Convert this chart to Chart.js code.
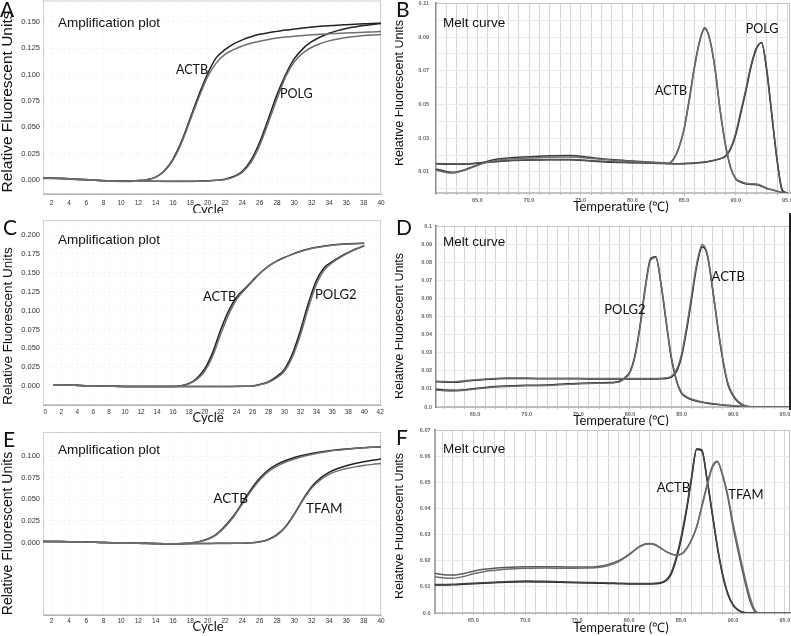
<!DOCTYPE html>
<html lang="en">
<head>
<meta charset="UTF-8">
<title>Amplification plots and melt curves</title>
<script src="https://cdn.jsdelivr.net/npm/chart.js"></script>
<style>
    html, body {
        margin: 0;
        padding: 0;
        background: #fff;
    }
    body {
        position: relative;
        width: 791px;
        height: 636px;
        overflow: hidden;
    }
    canvas {
        position: absolute;
    }
</style>
</head>
<body>
<canvas id="panelA" style="left:0;top:0" width="395" height="213"></canvas>
<canvas id="panelB" style="left:395px;top:0" width="396" height="213"></canvas>
<canvas id="panelC" style="left:0;top:213px" width="395" height="213"></canvas>
<canvas id="panelD" style="left:395px;top:213px" width="396" height="213"></canvas>
<canvas id="panelE" style="left:0;top:426px" width="395" height="210"></canvas>
<canvas id="panelF" style="left:395px;top:426px" width="396" height="210"></canvas>

<script>
// ---------- amplification plots (one value per cycle) ----------
const cycles = [1,2,3,4,5,6,7,8,9,10,11,12,13,14,15,16,17,18,19,20,
                21,22,23,24,25,26,27,28,29,30,31,32,33,34,35,36,37,38,39,40];

const ampXTicksAE = [2,4,6,8,10,12,14,16,18,20,22,24,26,28,30,32,34,36,38,40];
const ampXTicksC = [0,2,4,6,8,10,12,14,16,18,20,22,24,26,28,30,32,34,36,38,40,42];

const ampYTicksA = [0, 0.025, 0.05, 0.075, 0.1, 0.125, 0.15];
const ampYLabelsA = ['0.000','0.025','0.050','0.075','0.100','0.125','0.150'];
const ampYTicksC = [0, 0.025, 0.05, 0.075, 0.1, 0.125, 0.15, 0.175, 0.2];
const ampYLabelsC = ['0.000','0.025','0.050','0.075','0.100','0.125','0.150','0.175','0.200'];
const ampYTicksE = [0, 0.025, 0.05, 0.075, 0.1];
const ampYLabelsE = ['0.000','0.025','0.050','0.075','0.100'];

// panel A: ACTB / POLG
const actbA1 = [0.0020,0.0020,0.0019,0.0015,0.0010,0.0006,0.0002,-0.0003,-0.0008,-0.0008,
                -0.0006,-0.0002,0.0006,0.0030,0.0090,0.0200,0.0370,0.0590,0.0810,0.1010,
                0.1160,0.1235,0.1290,0.1328,0.1357,0.1380,0.1396,0.1408,0.1420,0.1430,
                0.1440,0.1449,0.1456,0.1462,0.1467,0.1471,0.1475,0.1479,0.1483,0.1486];
const actbA2 = [0.0019,0.0019,0.0018,0.0014,0.0009,0.0005,0.0001,-0.0004,-0.0009,-0.0009,
                -0.0007,-0.0003,0.0005,0.0028,0.0085,0.0190,0.0355,0.0570,0.0785,0.0980,
                0.1110,0.1190,0.1235,0.1270,0.1295,0.1315,0.1331,0.1345,0.1355,0.1363,
                0.1369,0.1375,0.1380,0.1385,0.1389,0.1393,0.1396,0.1400,0.1403,0.1406];
const polgA1 = [0.0018,0.0018,0.0016,0.0012,0.0008,0.0004,0.0000,-0.0005,-0.0009,-0.0010,
                -0.0010,-0.0008,-0.0008,-0.0009,-0.0010,-0.0010,-0.0010,-0.0010,-0.0008,-0.0005,
                0.0000,0.0010,0.0035,0.0085,0.0190,0.0360,0.0580,0.0810,0.1000,0.1150,
                0.1245,0.1310,0.1355,0.1390,0.1415,0.1435,0.1450,0.1463,0.1473,0.1482];
const polgA2 = [0.0017,0.0017,0.0015,0.0011,0.0007,0.0003,-0.0001,-0.0006,-0.0010,-0.0011,
                -0.0011,-0.0009,-0.0009,-0.0010,-0.0011,-0.0011,-0.0011,-0.0011,-0.0009,-0.0006,
                -0.0001,0.0008,0.0030,0.0075,0.0170,0.0330,0.0545,0.0770,0.0980,0.1120,
                0.1205,0.1258,0.1292,0.1318,0.1336,0.1350,0.1360,0.1368,0.1374,0.1378];

// panel C: ACTB / POLG2
const actbC1 = [0.0015,0.0015,0.0014,0.0010,0.0006,0.0004,0.0003,0.0002,-0.0003,-0.0005,
                -0.0005,-0.0005,-0.0005,-0.0005,-0.0005,-0.0004,0.0005,0.0035,0.0105,0.0230,
                0.0450,0.0750,0.1000,0.1180,0.1290,0.1400,0.1505,0.1590,0.1655,0.1705,
                0.1748,0.1785,0.1815,0.1838,0.1855,0.1868,0.1878,0.1885,0.1890,0.1893];
const actbC2 = [0.0014,0.0014,0.0013,0.0009,0.0005,0.0003,0.0002,0.0001,-0.0004,-0.0006,
                -0.0006,-0.0006,-0.0006,-0.0006,-0.0006,-0.0005,0.0003,0.0030,0.0090,0.0200,
                0.0400,0.0690,0.0950,0.1150,0.1275,0.1390,0.1500,0.1588,0.1652,0.1702,
                0.1745,0.1782,0.1812,0.1835,0.1852,0.1865,0.1875,0.1882,0.1887,0.1890];
const polg2C1 = [0.0015,0.0015,0.0014,0.0010,0.0006,0.0004,0.0003,0.0002,-0.0003,-0.0005,
                 -0.0005,-0.0005,-0.0005,-0.0005,-0.0005,-0.0005,-0.0005,-0.0005,-0.0005,-0.0005,
                 -0.0005,-0.0005,-0.0004,-0.0003,-0.0002,0.0003,0.0025,0.0060,0.0125,0.0225,
                 0.0430,0.0740,0.1100,0.1400,0.1570,0.1650,0.1715,0.1770,0.1820,0.1860];
const polg2C2 = [0.0014,0.0014,0.0013,0.0009,0.0005,0.0003,0.0002,0.0001,-0.0004,-0.0006,
                 -0.0006,-0.0006,-0.0006,-0.0006,-0.0006,-0.0006,-0.0006,-0.0006,-0.0006,-0.0006,
                 -0.0006,-0.0006,-0.0005,-0.0004,-0.0003,0.0001,0.0020,0.0052,0.0110,0.0200,
                 0.0390,0.0680,0.1040,0.1350,0.1540,0.1635,0.1705,0.1765,0.1815,0.1855];

// panel E: ACTB / TFAM
const actbE1 = [0.0012,0.0012,0.0011,0.0010,0.0008,0.0005,0.0003,0.0000,-0.0003,-0.0005,
                -0.0007,-0.0009,-0.0010,-0.0013,-0.0014,-0.0014,-0.0012,-0.0005,0.0010,0.0040,
                0.0095,0.0190,0.0310,0.0460,0.0615,0.0745,0.0840,0.0905,0.0950,0.0985,
                0.1010,0.1030,0.1047,0.1062,0.1073,0.1083,0.1091,0.1098,0.1104,0.1110];
const actbE2 = [0.0011,0.0011,0.0010,0.0009,0.0007,0.0004,0.0002,-0.0001,-0.0004,-0.0006,
                -0.0008,-0.0010,-0.0011,-0.0014,-0.0015,-0.0015,-0.0013,-0.0006,0.0008,0.0036,
                0.0088,0.0180,0.0298,0.0445,0.0595,0.0725,0.0820,0.0885,0.0932,0.0968,
                0.0997,0.1020,0.1040,0.1057,0.1070,0.1080,0.1089,0.1097,0.1103,0.1109];
const tfamE1 = [0.0012,0.0012,0.0011,0.0010,0.0008,0.0005,0.0003,0.0000,-0.0003,-0.0005,
                -0.0007,-0.0009,-0.0010,-0.0013,-0.0014,-0.0014,-0.0014,-0.0013,-0.0012,-0.0011,
                -0.0010,-0.0010,-0.0009,-0.0008,-0.0003,0.0008,0.0035,0.0090,0.0185,0.0330,
                0.0500,0.0645,0.0745,0.0812,0.0857,0.0890,0.0915,0.0935,0.0952,0.0968];
const tfamE2 = [0.0011,0.0011,0.0010,0.0009,0.0007,0.0004,0.0002,-0.0001,-0.0004,-0.0006,
                -0.0008,-0.0010,-0.0011,-0.0014,-0.0015,-0.0015,-0.0015,-0.0014,-0.0013,-0.0012,
                -0.0011,-0.0011,-0.0010,-0.0009,-0.0004,0.0006,0.0032,0.0085,0.0180,0.0325,
                0.0490,0.0630,0.0725,0.0790,0.0830,0.0856,0.0876,0.0892,0.0905,0.0915];

// ---------- melt curves (temperature in degrees C) ----------
const meltXLabels = [65, 70, 75, 80, 85, 90, 95];

const meltYTicksB = [0, 0.01, 0.02, 0.03, 0.04, 0.05, 0.06, 0.07, 0.08, 0.09, 0.1, 0.11];
const meltYLabelsB = ['', '0.01', '', '0.03', '', '0.05', '', '0.07', '', '0.09', '', '0.11'];
const meltYTicksD = [0, 0.01, 0.02, 0.03, 0.04, 0.05, 0.06, 0.07, 0.08, 0.09, 0.1];
const meltYLabelsD = ['0.0','0.01','0.02','0.03','0.04','0.05','0.06','0.07','0.08','0.09','0.1'];
const meltYTicksF = [0, 0.01, 0.02, 0.03, 0.04, 0.05, 0.06, 0.07];
const meltYLabelsF = ['0.0','0.01','0.02','0.03','0.04','0.05','0.06','0.07'];

// panel B: ACTB / POLG
const tempsB = [61,62,62.5,63,64,65,66,67,68,70,72,74,76,78,80,82,83,83.5,84,84.5,
                85,85.5,86,86.5,87,87.5,88,88.5,89,89.5,90,90.5,91,91.5,92,92.5,93,93.5,94,94.5,95];
const actbB1 = [0.0118,0.0102,0.0098,0.0100,0.0118,0.0142,0.0163,0.0176,0.0183,0.0190,
                0.0196,0.0197,0.0186,0.0173,0.0165,0.0158,0.0153,0.0151,0.0178,0.0245,
                0.0355,0.0530,0.0722,0.0875,0.0955,0.0885,0.0710,0.0459,0.0262,0.0125,
                0.0058,0.0038,0.0028,0.0025,0.0024,0.0015,0.0002,-0.0006,-0.0014,-0.0022,-0.0025];
const actbB2 = [0.0110,0.0097,0.0094,0.0097,0.0114,0.0138,0.0158,0.0170,0.0176,0.0182,
                0.0187,0.0188,0.0180,0.0169,0.0162,0.0156,0.0152,0.0150,0.0176,0.0242,
                0.0350,0.0520,0.0715,0.0870,0.0950,0.0882,0.0712,0.0465,0.0266,0.0130,
                0.0062,0.0043,0.0033,0.0030,0.0028,0.0019,0.0004,-0.0006,-0.0015,-0.0025,-0.0025];
const polgB1 = [0.0148,0.0146,0.0145,0.0145,0.0147,0.0151,0.0157,0.0162,0.0166,0.0170,
                0.0172,0.0172,0.0165,0.0158,0.0155,0.0152,0.0150,0.0149,0.0148,0.0148,
                0.0149,0.0150,0.0152,0.0155,0.0158,0.0163,0.0170,0.0178,0.0192,0.0235,
                0.0320,0.0450,0.0585,0.0730,0.0830,0.0868,0.0700,0.0430,0.0168,-0.0010,-0.0025];
const polgB2 = [0.0150,0.0148,0.0147,0.0147,0.0149,0.0153,0.0159,0.0164,0.0168,0.0172,
                0.0174,0.0174,0.0167,0.0160,0.0156,0.0153,0.0151,0.0150,0.0149,0.0149,
                0.0150,0.0151,0.0153,0.0156,0.0159,0.0164,0.0171,0.0179,0.0194,0.0240,
                0.0330,0.0462,0.0595,0.0738,0.0835,0.0865,0.0710,0.0440,0.0175,-0.0005,-0.0025];

// panel D: POLG2 / ACTB
const tempsD = [61.2,62,63,64,65,66,67,68,70,72,74,76,77,78,78.5,79,79.5,80,80.5,81,
                81.5,82,82.5,83,83.5,84,84.5,85,85.5,86,86.5,87,87.5,88,88.5,89,89.5,90,
                90.5,91,91.5,92,93,94,95.5];
const polg2D1 = [0.0098,0.0094,0.0092,0.0095,0.0102,0.0108,0.0113,0.0116,0.0120,0.0122,
                 0.0128,0.0133,0.0134,0.0135,
                 0.0137,0.0142,0.0162,0.0195,0.0290,0.0460,0.0670,0.0820,0.0830,0.0680,
                 0.0470,0.0270,0.0145,0.0075,0.0052,0.0040,0.0032,0.0026,0.0021,0.0017,
                 0.0014,0.0011,0.0008,0.0006,0.0004,0.0002,0.0000,0.0000,0.0000,0.0000,0.0000];
const polg2D2 = [0.0093,0.0090,0.0089,0.0092,0.0099,0.0105,0.0110,0.0113,0.0117,0.0119,
                 0.0125,0.0130,0.0131,0.0132,
                 0.0134,0.0139,0.0158,0.0190,0.0282,0.0450,0.0660,0.0812,0.0826,0.0685,
                 0.0478,0.0278,0.0150,0.0080,0.0056,0.0043,0.0035,0.0028,0.0023,0.0019,
                 0.0015,0.0012,0.0009,0.0007,0.0005,0.0003,0.0001,0.0000,0.0000,0.0000,0.0000];
const actbD1 = [0.0140,0.0138,0.0137,0.0142,0.0148,0.0152,0.0155,0.0157,0.0157,0.0156,
                0.0156,0.0155,0.0155,0.0155,
                0.0155,0.0155,0.0155,0.0155,0.0155,0.0155,0.0155,0.0155,0.0155,0.0156,
                0.0158,0.0165,0.0195,0.0280,0.0430,0.0610,0.0790,0.0885,0.0835,0.0650,
                0.0440,0.0255,0.0120,0.0060,0.0025,0.0008,0.0002,0.0000,0.0000,0.0000,0.0000];
const actbD2 = [0.0143,0.0141,0.0140,0.0145,0.0151,0.0155,0.0158,0.0160,0.0160,0.0159,
                0.0159,0.0158,0.0158,0.0158,
                0.0158,0.0158,0.0158,0.0158,0.0158,0.0158,0.0158,0.0158,0.0158,0.0159,
                0.0161,0.0170,0.0205,0.0295,0.0450,0.0630,0.0805,0.0898,0.0842,0.0655,
                0.0445,0.0262,0.0128,0.0066,0.0030,0.0011,0.0003,0.0000,0.0000,0.0000,0.0000];

// panel F: ACTB / TFAM
const tempsF = [61.25,62,63,64,65,66,67,68,70,72,74,76,77,78,79,80,80.5,81,81.5,82,
                82.5,83,83.5,84,84.5,85,85.5,86,86.5,87,87.5,88,88.5,89,89.5,90,
                90.5,91,91.5,92,92.5,93,94,95.5];
const actbF1 = [0.0107,0.0107,0.0108,0.0110,0.0112,0.0114,0.0116,0.0118,
                0.0120,0.0119,0.0117,0.0115,0.0114,0.0113,0.0112,0.0111,
                0.0111,0.0111,0.0111,0.0111,0.0112,0.0114,0.0122,0.0145,0.0200,0.0280,
                0.0385,0.0510,0.0625,0.0620,0.0510,0.0380,0.0250,0.0145,0.0072,0.0030,
                0.0010,0.0002,0.0000,0.0000,0.0000,0.0000,0.0000,0.0000];
const actbF2 = [0.0109,0.0109,0.0110,0.0112,0.0114,0.0116,0.0118,0.0120,
                0.0122,0.0121,0.0119,0.0117,0.0116,0.0115,0.0114,0.0113,
                0.0113,0.0113,0.0113,0.0113,0.0114,0.0116,0.0125,0.0150,0.0208,0.0290,
                0.0395,0.0518,0.0628,0.0624,0.0515,0.0385,0.0255,0.0150,0.0076,0.0033,
                0.0012,0.0003,0.0000,0.0000,0.0000,0.0000,0.0000,0.0000];
const tfamF1 = [0.0152,0.0147,0.0145,0.0150,0.0160,0.0167,0.0171,0.0174,
                0.0177,0.0177,0.0176,0.0176,0.0178,0.0186,0.0200,0.0225,
                0.0240,0.0255,0.0264,0.0266,0.0262,0.0250,0.0237,0.0227,0.0222,0.0225,
                0.0245,0.0280,0.0330,0.0410,0.0490,0.0560,0.0580,0.0525,0.0443,0.0330,
                0.0235,0.0145,0.0065,0.0012,0.0000,0.0000,0.0000,0.0000];
const tfamF2 = [0.0139,0.0135,0.0133,0.0139,0.0150,0.0158,0.0163,0.0167,
                0.0171,0.0172,0.0171,0.0172,0.0174,0.0182,0.0197,0.0222,
                0.0238,0.0253,0.0262,0.0264,0.0260,0.0249,0.0236,0.0226,0.0221,0.0224,
                0.0244,0.0278,0.0328,0.0405,0.0485,0.0555,0.0578,0.0530,0.0452,0.0345,
                0.0252,0.0162,0.0080,0.0020,0.0000,0.0000,0.0000,0.0000];

// ---------- drawing ----------
const SANS = '"Liberation Sans", Arial, sans-serif';
const HUMAN = 'Lato, "Open Sans", sans-serif';
const DARK = '#222';
const GREY = '#6e6e6e';

function curve(xs, ys, color) {
    return {
        data: xs.map((x, i) => ({ x: x, y: ys[i] })),
        borderColor: color,
        borderWidth: 1.5,
        pointRadius: 0,
        fill: false,
        cubicInterpolationMode: 'monotone'
    };
}

function degreeGrid(min, max) {
    const out = [];
    for (let t = Math.ceil(min); t <= max; t++) out.push(t);
    return out;
}

function noPad(s) {
    s.paddingLeft = 0; s.paddingRight = 0; s.paddingTop = 0; s.paddingBottom = 0;
}

// titles, panel letters, gene labels and frame
function decor(p) {
    return {
        id: 'decor',
        beforeDatasetsDraw(chart) {
            const a = chart.chartArea, ctx = chart.ctx;
            ctx.save();
            ctx.strokeStyle = p.frame;
            ctx.lineWidth = 1;
            ctx.strokeRect(a.left + 0.5, a.top + 0.5, a.right - a.left - 1, a.bottom - a.top - 1);
            ctx.restore();
        },
        afterDraw(chart) {
            const ctx = chart.ctx, sx = chart.scales.x, sy = chart.scales.y;
            ctx.save();
            ctx.fillStyle = '#111';

            ctx.font = '21px ' + HUMAN;
            ctx.textAlign = 'left';
            ctx.textBaseline = 'alphabetic';
            ctx.fillText(p.letter, p.letterAt[0], p.letterAt[1]);

            ctx.font = '13.5px ' + SANS;
            ctx.fillText(p.title, p.titleAt[0], p.titleAt[1]);

            ctx.font = '13px ' + HUMAN;
            ctx.textAlign = 'center';
            ctx.textBaseline = 'middle';
            ctx.fillText(p.xTitle, p.xTitleAt[0], p.xTitleAt[1]);

            ctx.font = p.genes.size + 'px ' + HUMAN;
            ctx.textAlign = 'left';
            p.genes.list.forEach(g => {
                ctx.fillText(g.text, sx.getPixelForValue(g.x), sy.getPixelForValue(g.y));
            });

            if (p.rightRule) {
                ctx.fillStyle = '#222';
                ctx.fillRect(chart.width - 2, 0, 2, chart.chartArea.bottom + 3);
                ctx.fillStyle = '#111';
            }

            ctx.translate(p.yTitleAt[0], p.yTitleAt[1]);
            ctx.rotate(-Math.PI / 2);
            ctx.font = p.yTitleSize + 'px ' + SANS;
            ctx.textAlign = 'center';
            ctx.fillText('Relative Fluorescent Units', 0, 0);
            ctx.restore();
        }
    };
}

function build(id, p) {
    const canvas = document.getElementById(id);
    const W = canvas.width, H = canvas.height;
    const [L, T, R, B] = p.area;
    const melt = p.kind === 'melt';
    const xTicks = melt ? degreeGrid(p.x[0], p.x[1]) : p.xTicks;
    const xLabel = melt
        ? (v => (meltXLabels.indexOf(v) >= 0 ? v.toFixed(1) : ''))
        : (v => String(v));
    const tickFont = melt
        ? { family: SANS, size: 5.5, weight: 'bold' }
        : { family: SANS, size: 7.5 };

    return new Chart(canvas, {
        type: 'line',
        data: { datasets: p.datasets },
        options: {
            responsive: false,
            animation: false,
            events: [],
            layout: { padding: { left: 0, top: T, right: W - R, bottom: 0 } },
            plugins: { legend: { display: false }, tooltip: { enabled: false } },
            scales: {
                x: {
                    type: 'linear',
                    min: p.x[0],
                    max: p.x[1],
                    afterBuildTicks: s => { s.ticks = xTicks.map(v => ({ value: v })); },
                    afterFit: s => { s.height = H - B; noPad(s); },
                    ticks: {
                        autoSkip: false, maxRotation: 0, minRotation: 0,
                        padding: p.xPad,
                        font: melt ? tickFont : { family: SANS, size: 6.5 },
                        color: melt ? '#666' : '#333',
                        callback: v => xLabel(v)
                    },
                    grid: {
                        color: melt ? '#d6d6d6' : '#ececec',
                        drawTicks: melt,
                        tickLength: 2,
                        tickColor: '#bbb'
                    },
                    border: { color: melt ? '#8c8c8c' : '#b4b4b4', width: melt ? 1.5 : 1, dash: melt ? [] : [1, 3] }
                },
                y: {
                    type: 'linear',
                    min: p.y[0],
                    max: p.y[1],
                    afterBuildTicks: s => { s.ticks = p.yTicks.map(v => ({ value: v })); },
                    afterFit: s => { s.width = L; noPad(s); },
                    ticks: {
                        autoSkip: false,
                        padding: p.yPad,
                        font: tickFont,
                        color: melt ? '#666' : '#333',
                        callback: (v, i) => p.yLabels[i]
                    },
                    grid: { color: melt ? '#ebebeb' : '#ececec', drawTicks: false },
                    border: { color: melt ? '#8c8c8c' : '#b4b4b4', width: melt ? 2 : 1, dash: melt ? [] : [1, 3] }
                }
            }
        },
        plugins: [decor(p)]
    });
}

build('panelA', {
    kind: 'amp', area: [43, 0.5, 381, 194], x: [1, 40], y: [-0.013, 0.17],
    xTicks: ampXTicksAE, yTicks: ampYTicksA, yLabels: ampYLabelsA, xPad: 5, yPad: 3,
    frame: '#cfcfcf',
    datasets: [curve(cycles, actbA2, GREY), curve(cycles, polgA2, GREY),
               curve(cycles, actbA1, DARK), curve(cycles, polgA1, DARK)],
    letter: 'A', letterAt: [0, 16.5], title: 'Amplification plot', titleAt: [58, 27],
    xTitle: 'Cycle', xTitleAt: [208, 210], yTitleAt: [8, 102], yTitleSize: 15.5,
    genes: { size: 12.5, list: [{ text: 'ACTB', x: 16.35, y: 0.104 }, { text: 'POLG', x: 28.35, y: 0.082 }] }
});

build('panelB', {
    kind: 'melt', area: [41, 3, 395, 193], x: [61, 95.25], y: [-0.0025, 0.1102],
    yTicks: meltYTicksB, yLabels: meltYLabelsB, xPad: 2, yPad: 7,
    frame: '#c4c4c4',
    datasets: [curve(tempsB, actbB2, GREY), curve(tempsB, actbB1, '#3a3a3a'),
               curve(tempsB, polgB2, '#555'), curve(tempsB, polgB1, DARK)],
    letter: 'B', letterAt: [1, 16.5], title: 'Melt curve', titleAt: [48, 26.7],
    xTitle: 'Temperature (℃)', xTitleAt: [226, 207], yTitleAt: [5, 93], yTitleSize: 12.5,
    genes: { size: 12.5, list: [{ text: 'ACTB', x: 82.2, y: 0.058 }, { text: 'POLG', x: 90.96, y: 0.095 }] }
});

build('panelC', {
    kind: 'amp', area: [43, 7, 381, 192], x: [-0.3, 42.1], y: [-0.025, 0.22],
    xTicks: ampXTicksC, yTicks: ampYTicksC, yLabels: ampYLabelsC, xPad: 3, yPad: 3,
    frame: '#cfcfcf',
    datasets: [curve(cycles, actbC2, GREY), curve(cycles, polg2C2, GREY),
               curve(cycles, actbC1, DARK), curve(cycles, polg2C1, DARK)],
    letter: 'C', letterAt: [3, 22], title: 'Amplification plot', titleAt: [58, 31],
    xTitle: 'Cycle', xTitleAt: [208, 205], yTitleAt: [8, 113], yTitleSize: 13.5,
    genes: { size: 13, list: [{ text: 'ACTB', x: 19.77, y: 0.1178 }, { text: 'POLG2', x: 33.82, y: 0.1205 }] }
});

build('panelD', {
    kind: 'melt', area: [41, 13, 395, 194], x: [61.22, 95.49], y: [0, 0.1],
    yTicks: meltYTicksD, yLabels: meltYLabelsD, xPad: 2.5, yPad: 4,
    frame: '#c4c4c4', rightRule: true,
    datasets: [curve(tempsD, polg2D2, GREY), curve(tempsD, actbD2, GREY),
               curve(tempsD, polg2D1, DARK), curve(tempsD, actbD1, DARK)],
    letter: 'D', letterAt: [1, 22], title: 'Melt curve', titleAt: [48, 33],
    xTitle: 'Temperature (℃)', xTitleAt: [226, 208], yTitleAt: [5, 113], yTitleSize: 12.5,
    genes: { size: 13, list: [{ text: 'POLG2', x: 77.5, y: 0.0536 }, { text: 'ACTB', x: 87.9, y: 0.0722 }] }
});

build('panelE', {
    kind: 'amp', area: [43, 6, 381, 189], x: [1, 40], y: [-0.084, 0.128],
    xTicks: ampXTicksAE, yTicks: ampYTicksE, yLabels: ampYLabelsE, xPad: 2.5, yPad: 3,
    frame: '#cfcfcf',
    datasets: [curve(cycles, actbE2, GREY), curve(cycles, tfamE2, GREY),
               curve(cycles, actbE1, DARK), curve(cycles, tfamE1, DARK)],
    letter: 'E', letterAt: [3, 20.7], title: 'Amplification plot', titleAt: [58, 28.3],
    xTitle: 'Cycle', xTitleAt: [208, 201], yTitleAt: [8, 107.5], yTitleSize: 14,
    genes: { size: 13.5, list: [{ text: 'ACTB', x: 20.65, y: 0.0508 }, { text: 'TFAM', x: 31.35, y: 0.0392 }] }
});

build('panelF', {
    kind: 'melt', area: [39.5, 4, 395, 187], x: [61.26, 95.49], y: [0, 0.07],
    yTicks: meltYTicksF, yLabels: meltYLabelsF, xPad: 2.5, yPad: 4,
    frame: '#c4c4c4',
    datasets: [curve(tempsF, tfamF2, GREY), curve(tempsF, tfamF1, '#5a5a5a'),
               curve(tempsF, actbF2, '#444'), curve(tempsF, actbF1, DARK)],
    letter: 'F', letterAt: [1, 19], title: 'Melt curve', titleAt: [48, 27],
    xTitle: 'Temperature (℃)', xTitleAt: [226, 202], yTitleAt: [5, 100], yTitleSize: 12.5,
    genes: { size: 13, list: [{ text: 'ACTB', x: 82.66, y: 0.0477 }, { text: 'TFAM', x: 89.55, y: 0.0451 }] }
});
</script>
</body>
</html>
